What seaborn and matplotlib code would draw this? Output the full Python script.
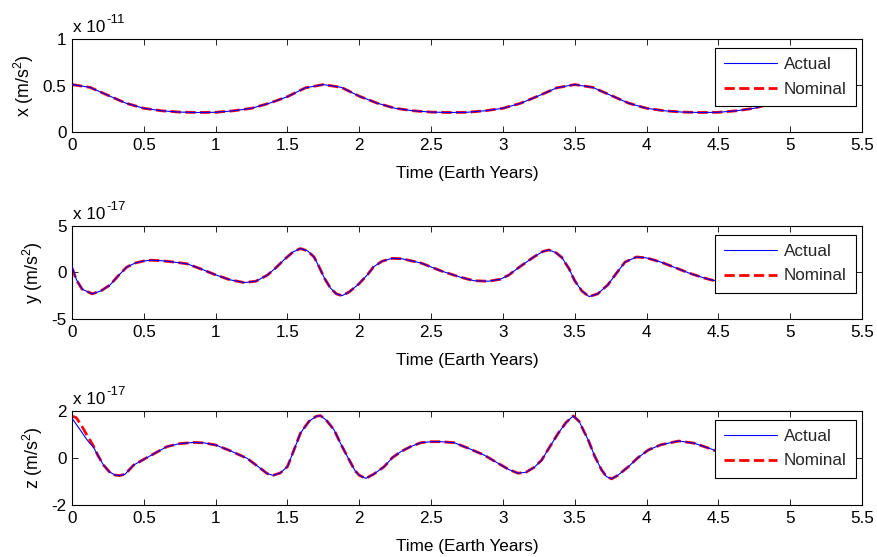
import numpy as np
import pandas as pd
import matplotlib
matplotlib.use("Agg")
import matplotlib.pyplot as plt
import seaborn as sns

# ---------------- data (values in units of the axis exponent) ----------------
# x component (x 10^-11)
t_x = [0.0, 0.125, 0.25, 0.375, 0.5, 0.625, 0.75, 0.875, 1.0, 1.125, 1.25, 1.375, 1.5, 1.625, 1.75,
       1.875, 2.0, 2.125, 2.25, 2.375, 2.5, 2.625, 2.75, 2.875, 3.0, 3.125, 3.25, 3.375, 3.5,
       3.625, 3.75, 3.875, 4.0, 4.125, 4.25, 4.375, 4.5, 4.625, 4.75, 4.875, 5.0, 5.125, 5.25]
x_nominal = [0.51, 0.48, 0.395, 0.31, 0.255, 0.228, 0.214, 0.21, 0.212, 0.228, 0.255, 0.31, 0.38, 0.475, 0.51,
             0.48, 0.385, 0.31, 0.255, 0.228, 0.214, 0.21, 0.212, 0.228, 0.255, 0.31, 0.39, 0.475, 0.51,
             0.48, 0.395, 0.31, 0.255, 0.228, 0.214, 0.21, 0.212, 0.228, 0.255, 0.31, 0.39, 0.475, 0.51]
x_actual = [0.51, 0.48, 0.395, 0.31, 0.255, 0.228, 0.214, 0.21, 0.212, 0.228, 0.255, 0.31, 0.38, 0.475, 0.51,
            0.48, 0.385, 0.31, 0.255, 0.228, 0.214, 0.21, 0.212, 0.228, 0.255, 0.31, 0.39, 0.475, 0.51,
            0.48, 0.395, 0.31, 0.255, 0.228, 0.214, 0.21, 0.212, 0.228, 0.255, 0.31, 0.39, 0.475, 0.51]

# y component (x 10^-17)
t_y = [0.0, 0.03, 0.07, 0.14, 0.2, 0.265, 0.32, 0.38, 0.44, 0.5, 0.55, 0.62, 0.7, 0.8, 0.9, 1.0,
       1.1, 1.2, 1.28, 1.36, 1.42, 1.48, 1.54, 1.59, 1.64, 1.685, 1.72, 1.76, 1.8, 1.84, 1.88, 1.93,
       2.0, 2.06, 2.1, 2.16, 2.23, 2.3, 2.43, 2.57, 2.7, 2.8, 2.9, 2.98, 3.04, 3.1, 3.15, 3.22,
       3.28, 3.32, 3.37, 3.41, 3.46, 3.5, 3.55, 3.6, 3.66, 3.73, 3.79, 3.85, 3.93, 4.0, 4.1, 4.2,
       4.3, 4.4, 4.46, 4.55, 4.65, 4.75, 4.85, 4.95, 5.05]
y_nominal = [0.5, -0.8, -1.8, -2.3, -2.0, -1.35, -0.4, 0.55, 1.0, 1.22, 1.3, 1.25, 1.12, 0.92, 0.35, -0.27,
             -0.8, -1.1, -0.95, -0.3, 0.5, 1.4, 2.2, 2.55, 2.3, 1.65, 0.6, -0.7, -1.7, -2.3, -2.5, -2.1,
             -1.2, -0.2, 0.6, 1.2, 1.5, 1.45, 1.0, 0.15, -0.5, -0.9, -0.95, -0.75, -0.3, 0.4, 0.95, 1.7,
             2.25, 2.4, 2.1, 1.6, 0.4, -0.9, -2.0, -2.6, -2.3, -1.35, -0.1, 1.1, 1.65, 1.55, 1.1, 0.5,
             -0.1, -0.6, -0.85, -1.0, -0.8, -0.2, 0.8, 1.8, 2.3]
y_actual = [0.6, -0.75, -1.8, -2.3, -2.0, -1.35, -0.4, 0.55, 1.0, 1.22, 1.3, 1.25, 1.12, 0.92, 0.35, -0.27,
            -0.8, -1.1, -0.95, -0.3, 0.5, 1.4, 2.2, 2.55, 2.3, 1.65, 0.6, -0.7, -1.7, -2.3, -2.5, -2.1,
            -1.2, -0.2, 0.6, 1.2, 1.5, 1.45, 1.0, 0.15, -0.5, -0.9, -0.95, -0.75, -0.3, 0.4, 0.95, 1.7,
            2.25, 2.4, 2.1, 1.6, 0.4, -0.9, -2.0, -2.6, -2.3, -1.35, -0.1, 1.1, 1.65, 1.55, 1.1, 0.5,
            -0.1, -0.6, -0.85, -1.0, -0.8, -0.2, 0.8, 1.8, 2.3]

# z component (x 10^-17)
t_z = [0.0, 0.03, 0.063, 0.091, 0.12, 0.149, 0.18, 0.219, 0.26, 0.3, 0.33, 0.37, 0.43, 0.5, 0.58,
       0.66, 0.75, 0.85, 0.92, 1.0, 1.1, 1.22, 1.3, 1.36, 1.4, 1.45, 1.5, 1.55, 1.59, 1.65, 1.7,
       1.73, 1.77, 1.825, 1.87, 1.918, 1.97, 2.0, 2.046, 2.1, 2.174, 2.23, 2.29, 2.36, 2.43, 2.5,
       2.57, 2.66, 2.76, 2.87, 2.97, 3.04, 3.105, 3.16, 3.22, 3.27, 3.33, 3.385, 3.44, 3.49, 3.53,
       3.594, 3.64, 3.687, 3.72, 3.757, 3.8, 3.874, 3.94, 4.013, 4.1, 4.223, 4.33, 4.455, 4.55,
       4.65, 4.75, 4.85, 4.95, 5.05]
z_nominal = [1.77, 1.7, 1.4, 1.1, 0.8, 0.5, 0.1, -0.31, -0.6, -0.74, -0.76, -0.7, -0.31, -0.07, 0.2,
             0.47, 0.6, 0.65, 0.63, 0.54, 0.3, -0.03, -0.4, -0.68, -0.75, -0.65, -0.38, 0.4, 1.04, 1.55, 1.76,
             1.79, 1.6, 1.18, 0.6, 0.04, -0.55, -0.75, -0.88, -0.7, -0.38, 0.0, 0.26, 0.48, 0.64, 0.68,
             0.68, 0.64, 0.4, 0.11, -0.25, -0.5, -0.66, -0.62, -0.4, -0.1, 0.5, 1.04, 1.5, 1.78, 1.55,
             0.75, 0.05, -0.52, -0.8, -0.9, -0.75, -0.38, 0.0, 0.33, 0.55, 0.71, 0.62, 0.36, 0.1,
             -0.2, -0.5, -0.7, -0.6, -0.2]
z_actual = [1.68, 1.42, 1.13, 0.88, 0.64, 0.45, 0.1, -0.31, -0.6, -0.74, -0.76, -0.7, -0.31, -0.07, 0.2,
            0.47, 0.6, 0.65, 0.63, 0.54, 0.3, -0.03, -0.4, -0.68, -0.75, -0.65, -0.38, 0.4, 1.04, 1.55, 1.76,
            1.79, 1.6, 1.18, 0.6, 0.04, -0.55, -0.75, -0.88, -0.7, -0.38, 0.0, 0.26, 0.48, 0.64, 0.68,
            0.68, 0.64, 0.4, 0.11, -0.25, -0.5, -0.66, -0.62, -0.4, -0.1, 0.5, 1.04, 1.5, 1.78, 1.55,
            0.75, 0.05, -0.52, -0.8, -0.9, -0.75, -0.38, 0.0, 0.33, 0.55, 0.71, 0.62, 0.36, 0.1,
            -0.2, -0.5, -0.7, -0.6, -0.2]

x_ticks = [0, 0.5, 1, 1.5, 2, 2.5, 3, 3.5, 4, 4.5, 5, 5.5]
x_ticklabels = ["0", "0.5", "1", "1.5", "2", "2.5", "3", "3.5", "4", "4.5", "5", "5.5"]
panel_ylabels = ["x (m/s$^2$)", "y (m/s$^2$)", "z (m/s$^2$)"]
panel_exp_base = ["x 10", "x 10", "x 10"]
panel_exp_power = ["-11", "-17", "-17"]
panel_yticks = [[0, 0.5, 1], [-5, 0, 5], [-2, 0, 2]]
panel_yticklabels = [["0", "0.5", "1"], ["-5", "0", "5"], ["-2", "0", "2"]]
xlabel_text = "Time (Earth Years)"
legend_labels = ["Actual", "Nominal"]

# ---------------- style ----------------
sns.set_style("white")
plt.rcParams["font.family"] = ["Liberation Sans", "DejaVu Sans"]
plt.rcParams["mathtext.fontset"] = "custom"
plt.rcParams["mathtext.rm"] = "Liberation Sans"
plt.rcParams["mathtext.it"] = "Liberation Sans:italic"
plt.rcParams["mathtext.default"] = "regular"
plt.rcParams["axes.unicode_minus"] = False
FS = 12.3
FS_YLAB = 12.8
FS_SUP = 9.5

W, H = 878, 557
fig = plt.figure(figsize=(W / 100, H / 100), dpi=100)

# axes boxes in pixels: left, top, right, bottom
boxes = [(72, 39, 862, 132), (72, 225.7, 862, 319), (72, 410.7, 862, 504.7)]

series = [(t_x, x_actual, x_nominal), (t_y, y_actual, y_nominal), (t_z, z_actual, z_nominal)]

for i, (box, (tt, act, nom)) in enumerate(zip(boxes, series)):
    l, tp, r, b = box
    ax = fig.add_axes([l / W, (H - b) / H, (r - l) / W, (b - tp) / H])
    df_nom = pd.DataFrame({"t": tt, "v": nom})
    df_act = pd.DataFrame({"t": tt, "v": act})
    sns.lineplot(data=df_nom, x="t", y="v", ax=ax, color="#FF0000", linewidth=2.0,
                 linestyle="--", estimator=None, sort=False, zorder=2)
    sns.lineplot(data=df_act, x="t", y="v", ax=ax, color="#0000FF", linewidth=0.8,
                 estimator=None, sort=False, zorder=3)
    line_nom, line_act = ax.lines[0], ax.lines[1]

    ax.set_xlim(0, 5.5)
    ax.set_ylim(panel_yticks[i][0], panel_yticks[i][-1])
    ax.set_xticks(x_ticks)
    ax.set_xticklabels(x_ticklabels, fontsize=FS)
    ax.set_yticks(panel_yticks[i])
    ax.set_yticklabels(panel_yticklabels[i], fontsize=FS)
    ax.tick_params(axis="both", direction="in", length=4.5, width=0.6, color="black",
                   top=True, right=True, bottom=True, left=True, labelcolor="black")
    ax.tick_params(axis="x", pad=4.5)
    ax.tick_params(axis="y", pad=4)
    for s in ax.spines.values():
        s.set_visible(True)
        s.set_color("black")
        s.set_linewidth(0.8)
    ax.set_xlabel(xlabel_text, fontsize=FS, labelpad=9.5, color="black")
    ax.set_ylabel(panel_ylabels[i], fontsize=FS_YLAB, labelpad=4.5, color="black")

    base = ax.annotate(panel_exp_base[i], xy=(0, 1), xycoords="axes fraction",
                       xytext=(0.5, 5.0), textcoords="offset points", ha="left", va="baseline",
                       fontsize=FS, color="black")
    ax.annotate(panel_exp_power[i], xy=(1, 1), xycoords=base,
                xytext=(1.0, -2.0), textcoords="offset points", ha="left", va="baseline",
                fontsize=FS_SUP, color="black")

    ax_w, ax_h = r - l, b - tp
    leg = ax.legend([line_act, line_nom], legend_labels,
                    loc="upper right", bbox_to_anchor=(1 - 6 / ax_w, 1 - 9 / ax_h),
                    borderaxespad=0, fontsize=FS, frameon=True, fancybox=False,
                    framealpha=1, edgecolor="black", handlelength=3.1, handletextpad=0.4,
                    borderpad=0.55, labelspacing=0.55)
    leg.get_frame().set_linewidth(0.8)

fig.savefig("out.png", dpi=100)
